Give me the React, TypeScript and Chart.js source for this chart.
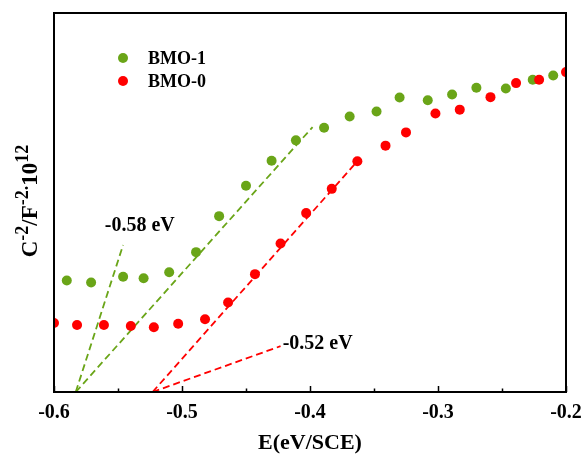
import React, { useEffect, useRef } from "react";
import { Chart, registerables } from "chart.js";

Chart.register(...registerables);

const FONT = "'Liberation Serif', 'Times New Roman', serif";
const GREEN = "#6AA518";
const RED = "#FF0000";

// BMO-1 (green) data
const bmo1X = [-0.590, -0.571, -0.546, -0.530, -0.510, -0.489, -0.471, -0.450, -0.430, -0.411, -0.389, -0.369, -0.348, -0.330, -0.308, -0.289, -0.270, -0.247, -0.226, -0.210];
const bmo1Y = [2.94, 2.89, 3.04, 3.00, 3.16, 3.69, 4.64, 5.44, 6.10, 6.64, 6.97, 7.27, 7.40, 7.77, 7.70, 7.85, 8.03, 8.01, 8.24, 8.35];

// BMO-0 (red) data
const bmo0X = [-0.600, -0.582, -0.561, -0.540, -0.522, -0.503, -0.482, -0.464, -0.443, -0.423, -0.403, -0.383, -0.363, -0.341, -0.325, -0.302, -0.283, -0.259, -0.239, -0.221, -0.200];
const bmo0Y = [1.82, 1.77, 1.77, 1.74, 1.71, 1.80, 1.92, 2.36, 3.11, 3.92, 4.72, 5.36, 6.09, 6.50, 6.85, 7.35, 7.45, 7.78, 8.15, 8.24, 8.44];

// Tangent (dashed) lines: [x0, y0, x1, y1]
const green1Fit = [-0.583, 0, -0.546, 3.88];
const green2Fit = [-0.583, 0, -0.398, 6.99];
const red1Fit = [-0.523, 0, -0.363, 6.09];
const red2Fit = [-0.523, 0, -0.423, 1.21];

// Annotations: text and data position
const annoTexts = ["-0.58 eV", "-0.52 eV"];
const annoX = [-0.533, -0.394];
const annoY = [4.38, 1.28];

const seriesNames = ["BMO-1", "BMO-0"];

const xMin = -0.6;
const xMax = -0.2;
const xStep = 0.1;
const yMin = 0;
const yMax = 10;

const pts = (xs: number[], ys: number[]) => xs.map((x, i) => ({ x, y: ys[i] }));
const seg = (f: number[]) => [{ x: f[0], y: f[1] }, { x: f[2], y: f[3] }];

const decorPlugin = {
  id: "decor",
  afterDraw(chart: any) {
    const { ctx, chartArea } = chart;
    const xs = chart.scales.x;
    const ys = chart.scales.y;
    const { left, right, top, bottom } = chartArea;
    ctx.save();
    // frame
    ctx.strokeStyle = "#000";
    ctx.lineWidth = 2;
    ctx.strokeRect(left, top, right - left, bottom - top);
    // inward ticks
    ctx.lineWidth = 1.5;
    const ticks = xs.ticks.map((t: any) => t.value);
    ctx.beginPath();
    ticks.forEach((v: number, i: number) => {
      const px = Math.round(xs.getPixelForValue(v)) + 0.5;
      ctx.moveTo(px, bottom);
      ctx.lineTo(px, bottom - 6);
      if (i < ticks.length - 1) {
        const mv = (v + ticks[i + 1]) / 2;
        const mpx = Math.round(xs.getPixelForValue(mv)) + 0.5;
        ctx.moveTo(mpx, bottom);
        ctx.lineTo(mpx, bottom - 3.5);
      }
    });
    ctx.stroke();

    // annotations
    ctx.fillStyle = "#000";
    ctx.font = `bold 20px ${FONT}`;
    ctx.textAlign = "center";
    ctx.textBaseline = "middle";
    annoTexts.forEach((t, i) => {
      ctx.fillText(t, xs.getPixelForValue(annoX[i]), ys.getPixelForValue(annoY[i]));
    });

    // legend
    const colors = [GREEN, RED];
    seriesNames.forEach((n, i) => {
      const cy = top + 45 + i * 23;
      const cx = left + 69;
      ctx.fillStyle = colors[i];
      ctx.beginPath();
      ctx.arc(cx, cy, 5, 0, Math.PI * 2);
      ctx.fill();
      ctx.fillStyle = "#000";
      ctx.font = `bold 18px ${FONT}`;
      ctx.textAlign = "left";
      ctx.textBaseline = "middle";
      ctx.fillText(n, cx + 25, cy + 1);
    });

    // y axis title with superscripts
    const baseFont = `bold 23px ${FONT}`;
    const supFont = `bold 18px ${FONT}`;
    const parts: [string, boolean][] = [
      ["C", false],
      ["-2", true],
      ["/F", false],
      ["-2.", true],
      ["10", false],
      ["12", true],
    ];
    let total = 0;
    const widths = parts.map(([t, sup]) => {
      ctx.font = sup ? supFont : baseFont;
      const w = ctx.measureText(t).width;
      total += w;
      return w;
    });
    const centerY = 201;
    ctx.translate(37, centerY + total / 2);
    ctx.rotate(-Math.PI / 2);
    ctx.textAlign = "left";
    ctx.textBaseline = "alphabetic";
    ctx.fillStyle = "#000";
    let cx = 0;
    parts.forEach(([t, sup], i) => {
      ctx.font = sup ? supFont : baseFont;
      ctx.fillText(t, cx, sup ? -9 : 0);
      cx += widths[i];
    });
    ctx.restore();
  },
};

export default function App() {
  const ref = useRef<HTMLCanvasElement | null>(null);
  useEffect(() => {
    document.body.style.margin = "0";
    if (!ref.current) return;
    const dashed = (data: any, color: string) => ({
      type: "line",
      data,
      borderColor: color,
      borderWidth: 1.8,
      borderDash: [7, 4],
      pointRadius: 0,
      fill: false,
      showLine: true,
      order: 3,
      clip: 0,
    });
    const chart = new Chart(ref.current, {
      type: "scatter",
      data: {
        datasets: [
          {
            label: seriesNames[1],
            data: pts(bmo0X, bmo0Y),
            backgroundColor: RED,
            borderWidth: 0,
            pointRadius: 5,
            pointHoverRadius: 5,
            order: 0,
            clip: 0,
          } as any,
          {
            label: seriesNames[0],
            data: pts(bmo1X, bmo1Y),
            backgroundColor: GREEN,
            borderWidth: 0,
            pointRadius: 5,
            pointHoverRadius: 5,
            order: 1,
            clip: 0,
          } as any,
          dashed(seg(green1Fit), GREEN) as any,
          dashed(seg(green2Fit), GREEN) as any,
          dashed(seg(red1Fit), RED) as any,
          dashed(seg(red2Fit), RED) as any,
        ],
      },
      options: {
        animation: false,
        responsive: false,
        devicePixelRatio: 1,
        layout: { padding: { top: 13, right: 17, left: 0, bottom: 0 } },
        plugins: { legend: { display: false }, tooltip: { enabled: false } },
        events: [],
        scales: {
          x: {
            type: "linear",
            min: xMin,
            max: xMax,
            afterFit: (s: any) => {
              s.height = 65;
              s.paddingLeft = 0;
              s.paddingRight = 0;
            },
            ticks: {
              stepSize: xStep,
              autoSkip: false,
              maxRotation: 0,
              color: "#000",
              padding: 9,
              font: { family: FONT, size: 20, weight: "bold" },
              callback: (v: any) => Number(v).toFixed(1),
            },
            grid: { display: false, drawTicks: false },
            border: { display: false },
            title: {
              display: true,
              text: "E(eV/SCE)",
              color: "#000",
              font: { family: FONT, size: 22, weight: "bold" },
              padding: { top: 0, bottom: 0 },
            },
          },
          y: {
            type: "linear",
            min: yMin,
            max: yMax,
            afterFit: (s: any) => {
              s.width = 54;
              s.paddingTop = 0;
              s.paddingBottom = 0;
            },
            ticks: { display: false },
            grid: { display: false, drawTicks: false },
            border: { display: false },
          },
        },
      } as any,
      plugins: [decorPlugin],
    });
    return () => chart.destroy();
  }, []);
  return (
    <div style={{ width: 583, height: 457 }}>
      <canvas ref={ref} width={583} height={457} style={{ display: "block" }} />
    </div>
  );
}
